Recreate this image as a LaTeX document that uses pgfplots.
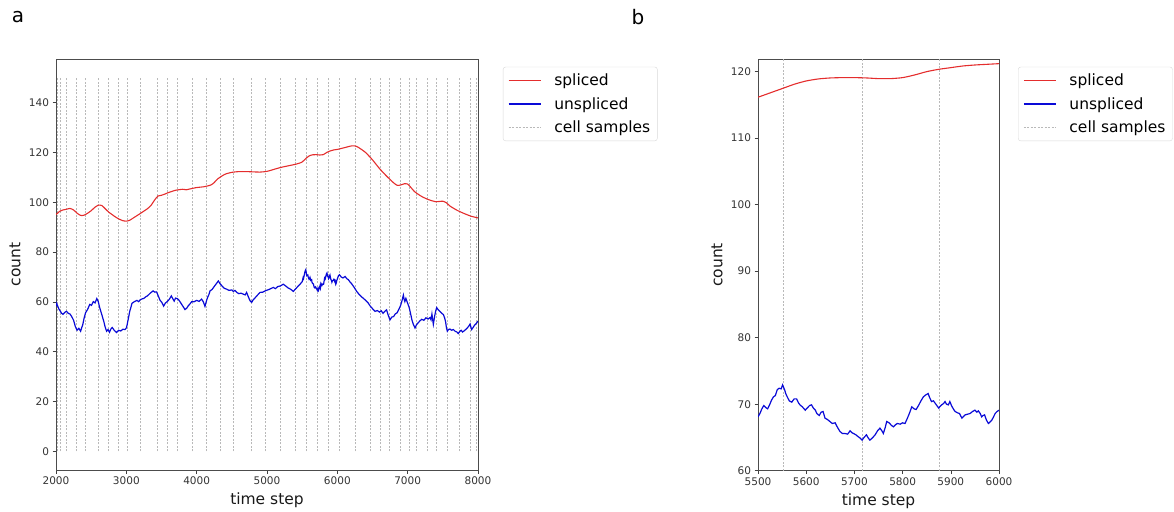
\documentclass[border=0pt]{standalone}
\usepackage{fontspec}
\setmainfont{DejaVu Sans}
\usepackage{pgfplots}
\usepackage{pgfplotstable}
\pgfplotsset{compat=1.18}
\definecolor{spl}{RGB}{228,45,45}
\definecolor{unspl}{RGB}{10,10,215}
\definecolor{samp}{RGB}{185,185,185}

\pgfplotstableread{
t v
2000 95.0
2050 96.3
2100 96.9
2150 97.2
2200 97.5
2250 96.9
2300 95.6
2350 94.7
2400 94.8
2450 95.6
2500 96.6
2550 97.9
2600 98.8
2650 98.7
2700 97.4
2750 96.0
2800 95.0
2850 94.0
2900 93.2
2950 92.6
3000 92.4
3050 92.8
3100 93.7
3200 95.5
3300 97.4
3350 98.7
3400 100.8
3450 102.5
3500 102.8
3550 103.3
3600 103.9
3700 104.8
3800 105.2
3850 105.0
3900 105.3
4000 105.9
4100 106.2
4200 106.9
4250 107.9
4300 109.4
4400 111.2
4500 112.0
4600 112.3
4700 112.3
4800 112.2
4900 112.1
5000 112.4
5100 113.2
5200 114.0
5300 114.6
5400 115.2
5450 115.6
5500 116.15
5550 117.5
5600 118.6
5650 119.05
5700 119.1
5750 118.95
5800 119.1
5850 120.0
5900 120.6
5950 121.0
6000 121.2
6100 121.9
6200 122.6
6250 122.6
6300 122.0
6400 120.0
6500 117.0
6600 113.5
6700 110.5
6800 107.8
6850 106.8
6900 106.9
6950 107.4
7000 107.3
7050 105.8
7100 104.2
7200 102.3
7300 101.0
7400 100.2
7450 100.3
7500 100.4
7550 99.8
7600 98.5
7700 96.8
7800 95.5
7900 94.4
8000 93.7
}\splA

\pgfplotstableread{
t v
2000 58.3
2010 59.4
2020 58.6
2040 57.2
2060 56.3
2080 55.4
2100 55.0
2125 55.8
2150 56.2
2175 55.4
2200 55.1
2225 54.0
2250 52.6
2275 50.1
2300 48.6
2325 49.4
2350 48.2
2365 49.6
2380 50.8
2400 53.5
2420 55.6
2450 57.0
2480 59.0
2505 58.6
2530 60.1
2555 59.6
2580 61.3
2600 60.2
2620 57.8
2650 55.0
2680 52.1
2700 49.8
2720 48.2
2740 48.9
2760 47.8
2780 49.1
2800 49.7
2830 48.5
2860 47.7
2890 48.6
2920 48.3
2950 49.0
2980 48.9
3000 49.5
3010 50.6
3030 53.5
3050 56.4
3065 57.8
3080 59.4
3110 60.0
3150 60.6
3175 60.1
3200 60.9
3225 61.2
3250 61.4
3275 62.0
3300 62.4
3340 63.5
3380 64.4
3405 63.9
3430 64.0
3455 62.3
3480 60.6
3505 59.8
3530 58.3
3555 59.5
3580 60.1
3610 61.0
3640 62.4
3660 61.3
3680 60.3
3700 61.5
3725 61.3
3750 60.6
3780 59.3
3810 58.0
3834 56.9
3860 57.5
3880 58.4
3905 59.2
3929 60.1
3960 60.0
4000 60.6
4035 60.2
4070 61.1
4095 60.0
4118 58.2
4140 60.5
4160 62.1
4175 63.0
4190 64.4
4220 65.0
4250 66.2
4280 67.3
4308 68.4
4335 67.2
4360 66.4
4395 65.4
4427 65.1
4460 64.6
4500 64.8
4520 64.2
4545 64.6
4570 63.8
4600 63.3
4630 63.5
4663 63.1
4690 62.8
4710 63.8
4735 62.0
4760 60.4
4783 59.8
4805 60.9
4830 61.6
4865 62.7
4900 63.8
4940 63.9
4980 64.5
5030 65.0
5060 65.4
5090 65.8
5120 65.3
5150 66.1
5190 66.4
5232 67.1
5265 66.4
5300 65.6
5340 65.0
5374 64.2
5410 65.3
5445 66.4
5470 67.1
5500 68.1
5514 69.8
5520 69.4
5532 71.1
5542 72.4
5551 72.9
5558 71.8
5565 70.5
5580 70.8
5587 69.9
5598 69.1
5611 69.9
5622 68.6
5635 68.9
5639 67.9
5649 67.4
5660 67.2
5670 65.9
5680 65.6
5691 66.0
5698 65.6
5708 65.1
5716 64.6
5725 65.4
5732 64.6
5743 65.4
5753 66.4
5760 65.6
5767 67.4
5781 66.6
5789 67.1
5795 67.0
5805 67.1
5819 69.6
5828 69.2
5843 71.1
5853 71.6
5860 70.4
5867 70.2
5875 69.4
5881 69.9
5888 70.4
5895 69.9
5898 70.4
5909 68.9
5918 68.6
5923 67.9
5930 68.4
5940 68.6
5950 69.1
5957 69.0
5964 68.1
5970 68.4
5978 67.1
5985 67.6
5992 68.6
5999 69.1
6015 70.4
6030 70.9
6055 70.0
6080 69.6
6110 70.2
6135 69.3
6157 68.9
6180 68.0
6200 67.4
6240 65.8
6275 64.2
6310 63.0
6350 61.9
6395 60.8
6440 59.5
6465 58.4
6490 57.6
6515 56.8
6536 56.2
6570 56.5
6600 55.9
6625 56.4
6650 55.4
6675 56.2
6700 56.8
6725 54.5
6749 52.8
6775 53.9
6800 54.1
6825 55.2
6850 55.6
6875 57.0
6900 58.6
6920 60.5
6939 62.7
6950 61.0
6960 60.1
6975 61.4
6990 60.2
7005 59.0
7020 57.9
7040 55.5
7060 52.8
7080 51.0
7105 49.5
7125 50.8
7150 51.6
7175 52.4
7200 53.0
7230 52.6
7260 53.6
7290 53.1
7318 53.7
7332 52.8
7345 55.1
7355 53.0
7365 51.0
7385 54.5
7400 56.5
7413 57.7
7435 56.8
7460 56.1
7485 55.4
7508 54.9
7525 53.6
7540 51.9
7552 49.5
7564 48.2
7580 48.9
7600 49.1
7625 48.6
7650 48.9
7675 48.2
7700 47.9
7720 47.3
7740 48.1
7760 48.6
7780 47.9
7800 48.3
7825 48.9
7850 49.6
7870 50.3
7887 51.1
7900 49.8
7910 48.9
7930 49.7
7950 50.6
7975 51.3
8000 52.3
}\unsA

\pgfplotstableread{
t v
5500 116.15
5525 116.8
5552 117.5
5575 118.1
5600 118.6
5625 118.9
5650 119.05
5675 119.1
5700 119.1
5725 119.05
5750 118.95
5775 118.95
5800 119.1
5825 119.5
5850 120.0
5875 120.35
5900 120.6
5925 120.85
5950 121.0
5975 121.1
6000 121.2
}\splB

\pgfplotstableread{
t v
5500 68.1
5504 68.6
5508 69.3
5512 69.8
5516 69.5
5520 69.3
5524 69.9
5528 70.6
5532 71.1
5536 71.3
5540 72.2
5544 72.4
5548 72.3
5551 72.9
5555 72.2
5558 71.5
5562 70.9
5565 70.5
5570 70.3
5575 70.8
5580 70.8
5584 70.2
5587 69.9
5592 69.6
5598 69.1
5603 69.5
5607 69.8
5611 69.9
5615 69.4
5619 69.1
5622 68.6
5627 68.3
5631 68.8
5635 68.9
5639 67.9
5644 67.7
5649 67.4
5654 67.1
5660 67.2
5665 66.5
5670 65.9
5675 65.6
5680 65.6
5686 65.5
5691 66.0
5695 65.7
5698 65.6
5703 65.4
5708 65.1
5712 64.9
5716 64.6
5720 65.0
5725 65.4
5728 65.0
5732 64.6
5737 64.9
5743 65.4
5748 66.0
5753 66.4
5757 66.0
5760 65.6
5764 66.5
5767 67.4
5772 67.2
5777 66.8
5781 66.6
5785 66.9
5789 67.1
5795 67.0
5800 67.2
5805 67.1
5810 67.9
5815 68.8
5819 69.6
5824 69.3
5828 69.2
5833 69.8
5838 70.5
5843 71.1
5848 71.4
5853 71.6
5856 71.0
5860 70.4
5864 70.5
5867 70.2
5871 69.8
5875 69.4
5878 69.7
5881 69.9
5885 70.1
5888 70.4
5891 70.0
5895 69.9
5898 70.4
5902 69.7
5906 69.2
5909 68.9
5914 68.7
5918 68.6
5923 67.9
5927 68.2
5930 68.4
5935 68.5
5940 68.6
5945 68.9
5950 69.1
5954 68.8
5957 69.0
5961 68.6
5964 68.1
5967 68.3
5970 68.4
5974 67.6
5978 67.1
5981 67.3
5985 67.6
5988 68.0
5992 68.6
5996 68.9
6000 69.1
}\unsB

\pgfplotsset{
  panel/.style={
    scale only axis,
    axis line style={black!70, line width=0.8pt},
    tick style={black!75, line width=0.6pt},
    tick align=outside,
    major tick length=3.5pt,
    xtick pos=bottom, ytick pos=left,
    tick label style={font=\fontsize{10.5}{12}\selectfont, text=black!80},
    label style={font=\fontsize{15.5}{18}\selectfont, text=black!90},
    /pgf/number format/assume math mode=true,
    /pgf/number format/1000 sep={},
    legend cell align=left,
    legend image code/.code={\draw[#1] (0pt,0pt) -- (32pt,0pt);},
    legend style={font=\fontsize{15.5}{18}\selectfont, draw=black!15, rounded corners=2.5pt,
      anchor=north west, inner xsep=5pt, inner ysep=5pt, row sep=6pt,
      /tikz/every odd column/.append style={column sep=11pt},
      /tikz/every even column/.append style={column sep=0pt}},
    xlabel={time step}, ylabel={count},
  },
  vline/.style={samp, line width=0.5pt, dash pattern=on 2pt off 1.5pt, forget plot},
}

\begin{document}
\begin{tikzpicture}
\useasboundingbox (0pt,0pt) rectangle (1174pt,-511pt);
\node[font=\fontsize{20}{24}\selectfont, anchor=center] at (18pt,-17pt) {a};
\node[font=\fontsize{20}{24}\selectfont, anchor=center] at (638pt,-17pt) {b};

\begin{axis}[panel,
  at={(56pt,-470pt)}, anchor=south west,
  width=422pt, height=411pt,
  xmin=2000, xmax=8000, ymin=-7.5, ymax=157.5,
  xtick={2000,3000,...,8000}, ytick={0,20,...,140},
  ylabel style={at={(axis description cs:-0.097,0.5)}, anchor=center},
  xlabel style={at={(axis description cs:0.5,-0.073)}, anchor=center},
  legend style={at={(axis description cs:1.059,0.981)}},
]
\pgfplotsinvokeforeach{2018,2058,2150,2295,2415,2603,2743,2880,3013,3198,3438,3580,3725,3935,4130,4330,4520,4780,4980,5195,5405,5552,5716,5875,6022,6248,6466,6608,6738,6892,7028,7128,7283,7413,7563,7728,7888,7968}{
  \addplot[vline] coordinates {(#1,0) (#1,150)};
}
\addplot[spl, line width=1.1pt, smooth, tension=0.4] table[x=t,y=v] {\splA};
\addplot[unspl, line width=1.2pt] table[x=t,y=v] {\unsA};
\addlegendimage{samp, line width=0.5pt, dash pattern=on 2pt off 1.5pt}
\legend{spliced, unspliced, cell samples}
\end{axis}

\begin{axis}[panel,
  at={(758pt,-470.7pt)}, anchor=south west,
  width=241pt, height=411.7pt,
  xmin=5500, xmax=6000, ymin=60, ymax=121.9,
  xtick={5500,5600,...,6000}, ytick={60,70,...,120},
  ylabel style={at={(axis description cs:-0.170,0.5)}, anchor=center},
  xlabel style={at={(axis description cs:0.5,-0.073)}, anchor=center},
  legend style={at={(axis description cs:1.079,0.981)}},
]
\pgfplotsinvokeforeach{5552,5716,5875}{
  \addplot[vline] coordinates {(#1,0) (#1,150)};
}
\addplot[spl, line width=1.1pt, smooth, tension=0.4] table[x=t,y=v] {\splB};
\addplot[unspl, line width=1.2pt] table[x=t,y=v] {\unsB};
\addlegendimage{samp, line width=0.5pt, dash pattern=on 2pt off 1.5pt}
\legend{spliced, unspliced, cell samples}
\end{axis}
\end{tikzpicture}
\end{document}
